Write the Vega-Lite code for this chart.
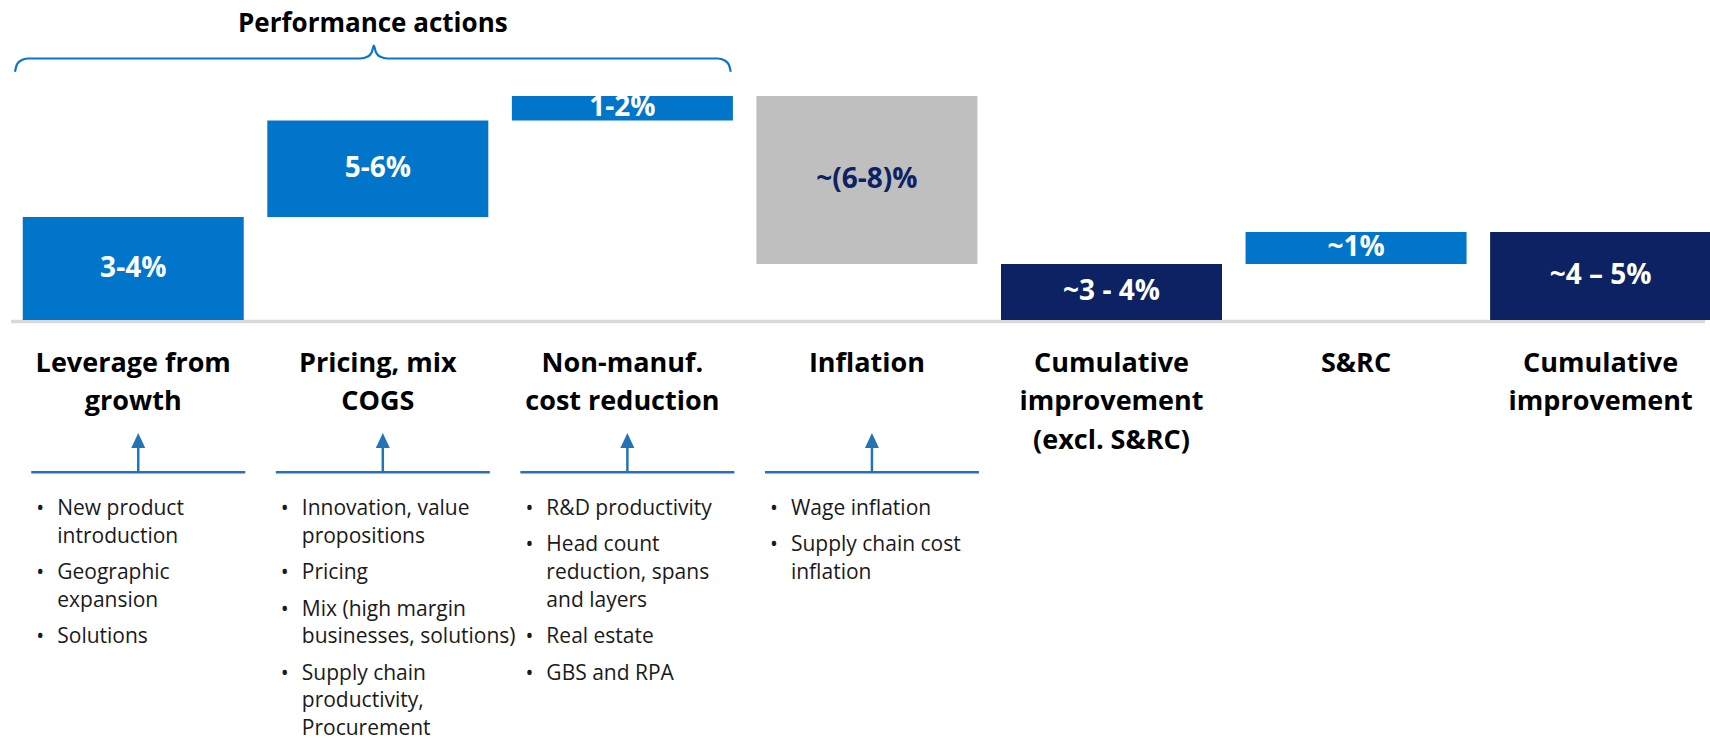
{
  "$schema": "https://vega.github.io/schema/vega-lite/v6.json",
  "width": 1710,
  "height": 742,
  "padding": 0,
  "autosize": {"type": "none"},
  "background": "white",
  "config": {"view": {"stroke": null}},
  "datasets": {
    "steps": [
      {"col": 0, "heading": "Leverage from\ngrowth", "start": 0, "end": 10.3, "label": "3-4%", "kind": "action", "drivers": 1},
      {"col": 1, "heading": "Pricing, mix\nCOGS", "start": 10.3, "end": 19.95, "label": "5-6%", "kind": "action", "drivers": 1},
      {"col": 2, "heading": "Non-manuf.\ncost reduction", "start": 19.95, "end": 22.4, "label": "1-2%", "kind": "action", "drivers": 1},
      {"col": 3, "heading": "Inflation", "start": 22.4, "end": 5.6, "label": "~(6-8)%", "kind": "inflation", "drivers": 1},
      {"col": 4, "heading": "Cumulative\nimprovement\n(excl. S&RC)", "start": 0, "end": 5.6, "label": "~3 - 4%", "kind": "cumulative", "drivers": 0},
      {"col": 5, "heading": "S&RC", "start": 5.6, "end": 8.8, "label": "~1%", "kind": "action", "drivers": 0},
      {"col": 6, "heading": "Cumulative\nimprovement", "start": 0, "end": 8.8, "label": "~4 – 5%", "kind": "cumulative", "drivers": 0}
    ],
    "lines": [
      {"col": 0, "item": 0, "line": 0, "text": "New product", "first": 1},
      {"col": 0, "item": 0, "line": 1, "text": "introduction", "first": 0},
      {"col": 0, "item": 1, "line": 2, "text": "Geographic", "first": 1},
      {"col": 0, "item": 1, "line": 3, "text": "expansion", "first": 0},
      {"col": 0, "item": 2, "line": 4, "text": "Solutions", "first": 1},
      {"col": 1, "item": 0, "line": 0, "text": "Innovation, value", "first": 1},
      {"col": 1, "item": 0, "line": 1, "text": "propositions", "first": 0},
      {"col": 1, "item": 1, "line": 2, "text": "Pricing", "first": 1},
      {"col": 1, "item": 2, "line": 3, "text": "Mix (high margin", "first": 1},
      {"col": 1, "item": 2, "line": 4, "text": "businesses, solutions)", "first": 0},
      {"col": 1, "item": 3, "line": 5, "text": "Supply chain", "first": 1},
      {"col": 1, "item": 3, "line": 6, "text": "productivity,", "first": 0},
      {"col": 1, "item": 3, "line": 7, "text": "Procurement", "first": 0},
      {"col": 2, "item": 0, "line": 0, "text": "R&D productivity", "first": 1},
      {"col": 2, "item": 1, "line": 1, "text": "Head count", "first": 1},
      {"col": 2, "item": 1, "line": 2, "text": "reduction, spans", "first": 0},
      {"col": 2, "item": 1, "line": 3, "text": "and layers", "first": 0},
      {"col": 2, "item": 2, "line": 4, "text": "Real estate", "first": 1},
      {"col": 2, "item": 3, "line": 5, "text": "GBS and RPA", "first": 1},
      {"col": 3, "item": 0, "line": 0, "text": "Wage inflation", "first": 1},
      {"col": 3, "item": 1, "line": 1, "text": "Supply chain cost", "first": 1},
      {"col": 3, "item": 1, "line": 2, "text": "inflation", "first": 0}
    ],
    "brace": [
      {"u": -0.4837, "v": 24.83},
      {"u": -0.4756, "v": 25.55},
      {"u": -0.4593, "v": 25.95},
      {"u": -0.4309, "v": 26.15},
      {"u": 0.9268, "v": 26.15},
      {"u": 0.9593, "v": 26.35},
      {"u": 0.9756, "v": 26.8},
      {"u": 0.9837, "v": 27.45},
      {"u": 0.9919, "v": 26.8},
      {"u": 1.0081, "v": 26.35},
      {"u": 1.0407, "v": 26.15},
      {"u": 2.3902, "v": 26.15},
      {"u": 2.4187, "v": 25.95},
      {"u": 2.435, "v": 25.55},
      {"u": 2.4431, "v": 24.83}
    ]
  },
  "resolve": {"scale": {"y": "independent"}},
  "layer": [
    {
      "data": {"name": "steps"},
      "layer": [
        {
          "data": {"name": "brace"},
          "mark": {"type": "line", "interpolate": "monotone", "color": "#0B76CC", "strokeWidth": 2.2},
          "encoding": {
            "x": {"field": "u", "type": "quantitative", "scale": {"domain": [-0.5244, 6.4268], "nice": false, "zero": false}, "axis": null},
            "y": {"field": "v", "type": "quantitative", "scale": {"domain": [-42.2, 32.0], "nice": false, "zero": false}, "axis": null},
            "order": {"field": "u"}
          }
        },
        {
          "data": {"values": [{"title": "Performance actions"}]},
          "mark": {"type": "text", "font": "Open Sans", "fontWeight": "bold", "fontSize": 26, "color": "#000000", "align": "center", "baseline": "alphabetic", "xOffset": -5},
          "encoding": {
            "x": {"datum": 1, "type": "quantitative", "scale": {"domain": [-0.5244, 6.4268], "nice": false, "zero": false}, "axis": null},
            "y": {"datum": 28.83, "type": "quantitative", "scale": {"domain": [-42.2, 32.0], "nice": false, "zero": false}, "axis": null},
            "text": {"field": "title"}
          }
        },
        {
          "data": {"values": [{"line": "baseline"}]},
          "mark": {"type": "rule", "color": "#D9D9D9", "strokeWidth": 3.5},
          "encoding": {
            "x": {"datum": -0.5, "type": "quantitative", "scale": {"domain": [-0.5244, 6.4268], "nice": false, "zero": false}, "axis": null},
            "x2": {"datum": 6.4268},
            "y": {"datum": -0.15, "type": "quantitative", "scale": {"domain": [-42.2, 32.0], "nice": false, "zero": false}, "axis": null}
          }
        },
        {
          "mark": {"type": "bar", "width": 221},
          "encoding": {
            "x": {"field": "col", "type": "quantitative", "scale": {"domain": [-0.5244, 6.4268], "nice": false, "zero": false}, "axis": null},
            "y": {"field": "start", "type": "quantitative", "scale": {"domain": [-42.2, 32.0], "nice": false, "zero": false}, "axis": null},
            "y2": {"field": "end"},
            "color": {"field": "kind", "type": "nominal", "scale": {"domain": ["action", "inflation", "cumulative"], "range": ["#0075C9", "#BFBFBF", "#0C2262"]}, "legend": null}
          }
        },
        {
          "transform": [{"fold": ["start", "end"], "as": ["edge", "v"]}],
          "mark": {"type": "text", "font": "Open Sans", "fontWeight": "bold", "fontSize": 28, "align": "center", "baseline": "middle"},
          "encoding": {
            "x": {"field": "col", "type": "quantitative", "scale": {"domain": [-0.5244, 6.4268], "nice": false, "zero": false}, "axis": null},
            "y": {"field": "v", "aggregate": "mean", "type": "quantitative", "scale": {"domain": [-42.2, 32.0], "nice": false, "zero": false}, "axis": null},
            "text": {"field": "label"},
            "detail": {"field": "kind"},
            "color": {"condition": {"test": "datum.kind === 'inflation'", "value": "#0C2262"}, "value": "#FFFFFF"}
          }
        },
        {
          "mark": {"type": "text", "font": "Open Sans", "fontWeight": "bold", "fontSize": 27, "align": "center", "baseline": "alphabetic", "lineBreak": "\n", "lineHeight": 38.5, "color": "#000000"},
          "encoding": {
            "x": {"field": "col", "type": "quantitative", "scale": {"domain": [-0.5244, 6.4268], "nice": false, "zero": false}, "axis": null},
            "y": {"datum": -5.17, "type": "quantitative", "scale": {"domain": [-42.2, 32.0], "nice": false, "zero": false}, "axis": null},
            "text": {"field": "heading"}
          }
        },
        {
          "transform": [{"filter": "datum.drivers == 1"}],
          "mark": {"type": "rule", "color": "#2474B5", "strokeWidth": 2.5, "xOffset": -102, "x2Offset": 112},
          "encoding": {
            "x": {"field": "col", "type": "quantitative", "scale": {"domain": [-0.5244, 6.4268], "nice": false, "zero": false}, "axis": null},
            "x2": {"field": "col"},
            "y": {"datum": -15.23, "type": "quantitative", "scale": {"domain": [-42.2, 32.0], "nice": false, "zero": false}, "axis": null}
          }
        },
        {
          "transform": [{"filter": "datum.drivers == 1"}],
          "mark": {"type": "rule", "color": "#2474B5", "strokeWidth": 2.5, "xOffset": 5},
          "encoding": {
            "x": {"field": "col", "type": "quantitative", "scale": {"domain": [-0.5244, 6.4268], "nice": false, "zero": false}, "axis": null},
            "y": {"datum": -15.23, "type": "quantitative", "scale": {"domain": [-42.2, 32.0], "nice": false, "zero": false}, "axis": null},
            "y2": {"datum": -12.6}
          }
        },
        {
          "transform": [{"filter": "datum.drivers == 1"}],
          "mark": {"type": "point", "shape": "M0,-1.07L1,1.07L-1,1.07Z", "filled": true, "size": 196, "opacity": 1, "color": "#2474B5", "xOffset": 5},
          "encoding": {
            "x": {"field": "col", "type": "quantitative", "scale": {"domain": [-0.5244, 6.4268], "nice": false, "zero": false}, "axis": null},
            "y": {"datum": -12.05, "type": "quantitative", "scale": {"domain": [-42.2, 32.0], "nice": false, "zero": false}, "axis": null}
          }
        }
      ]
    },
    {
      "data": {"name": "lines"},
      "encoding": {
        "x": {"field": "col", "type": "quantitative", "scale": {"domain": [-0.5244, 6.4268], "nice": false, "zero": false}, "axis": null},
        "y": {"field": "line", "type": "ordinal", "scale": {"type": "point", "range": [515, 708.5], "padding": 0}, "axis": null},
        "yOffset": {"field": "item", "type": "quantitative", "scale": {"domain": [0, 3], "range": [0, 26.5]}}
      },
      "layer": [
        {
          "mark": {"type": "text", "font": "Open Sans", "fontSize": 21, "align": "left", "baseline": "alphabetic", "xOffset": -76, "color": "#1A1A1A"},
          "encoding": {"text": {"field": "text"}}
        },
        {
          "transform": [{"filter": "datum.first == 1"}],
          "mark": {"type": "text", "font": "Open Sans", "fontSize": 21, "align": "center", "baseline": "alphabetic", "xOffset": -93, "color": "#1A1A1A"},
          "encoding": {"text": {"value": "•"}}
        }
      ]
    }
  ]
}
